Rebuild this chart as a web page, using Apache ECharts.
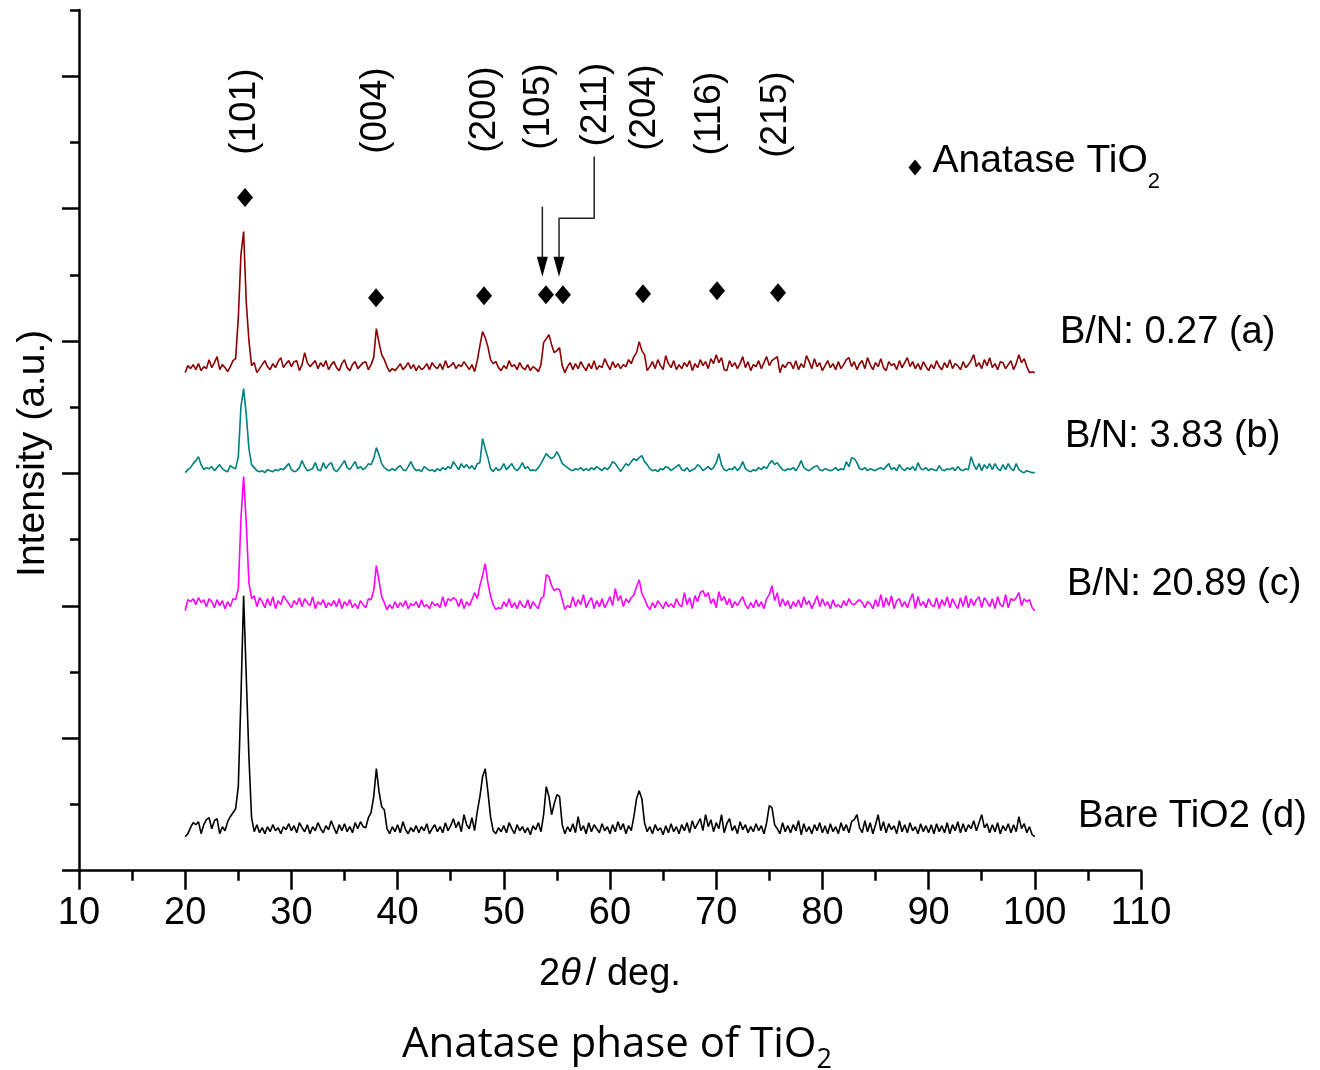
<!DOCTYPE html>
<html>
<head>
<meta charset="utf-8">
<script src="https://cdn.jsdelivr.net/npm/echarts@6/dist/echarts.min.js"></script>
<style>html,body{margin:0;padding:0;background:#fff}#chart{width:1320px;height:1070px}</style>
</head>
<body>
<div id="chart"></div>
<script>
// ---- data ----
const twoThetaStart = 20, twoThetaStep = 0.25;   // scan grid (deg)
const xTicks = [10, 20, 30, 40, 50, 60, 70, 80, 90, 100, 110];
const sampleNames = ['B/N: 0.27 (a)', 'B/N: 3.83 (b)', 'B/N: 20.89 (c)', 'Bare TiO2 (d)'];
const sampleColors = ['#8b0000', '#008080', '#ff00ff', '#000000'];
const stackOffsets = [498, 398, 260, 34];        // vertical offset of each pattern (a.u.)
const sampleLabelPos = [[102.37, 538], [102.84, 434], [103.03, 286], [104.07, 54]];

const intensityA = [
0,7,4,8, 3,9,2,6, 4,13,5,10, 16,3,8,5, 1,6,12,14,
55,118,141,70, 32,7,10,0, 4,8,12,6, 3,9,5,11, 15,5,9,12,
6,11,12,2, 8,20,10,6, 9,12,4,10, 6,12,3,8, 11,5,2,9,
13,5,2,8, 11,4,7,10, 11,3,8,15, 44,30,18,13, 6,1,4,2,
5,9,3,6, 10,4,8,2, 7,3,5,9, 3,10,6,4, 9,3,12,5,
7,10,4,8, 6,11,7,3, 8,1,12,27, 41,35,26,13, 9,11,5,2,
7,4,12,6, 8,3,10,5, 3,8,2,6, 4,1,8,30, 34,38,28,20,
22,25,7,0, 6,10,3,9, 4,11,6,2, 9,4,12,3, 7,5,14,8,
3,11,5,9, 4,8,6,13, 9,16,20,31, 22,18,2,6, 11,4,13,7,
3,17,9,5, 12,3,8,4, 10,6,12,2, 9,5,13,7, 11,4,14,9,
18,10,15,3, 2,12,6,10, 4,9,16,5, 11,2,8,6, 12,4,10,16,
7,12,14,16, 0,8,5,10, 10,4,12,3, 9,5,17,11, 4,14,6,10,
2,7,12,5, 9,3,11,4, 8,13,15,6, 11,3,9,12, 4,15,8,3,
10,6,14,5, 2,11,7,9, 3,12,5,10, 15,6,11,4, 9,3,11,6,
2,8,4,12, 6,3,10,5, 13,4,9,7, 3,11,5,8, 12,18,6,10,
4,13,7,15, 5,9,3,11, 10,4,8,12, 3,9,18,10, 14,6,0,1,
0];

const intensityB = [
0,3,5,9, 12,16,8,3, 5,4,6,2, 5,8,4,2, 1,7,5,4,
16,66,84,58, 24,8,5,2, 1,2,0,3, 2,1,3,2, 4,3,6,9,
3,1,2,5, 12,6,2,3, 4,10,3,2, 10,4,8,10, 3,1,4,8,
12,5,3,7, 11,4,6,3, 5,9,8,14, 25,18,9,5, 3,2,4,2,
5,7,3,2, 6,11,5,2, 3,1,6,4, 2,3,1,4, 2,5,3,6,
4,11,7,3, 9,5,8,4, 7,3,9,10, 34,24,15,4, 1,5,2,4,
9,3,6,9, 4,2,5,10, 4,6,2,3, 2,5,9,14, 19,16,14,16,
21,16,9,7, 5,3,2,4, 3,5,2,4, 2,5,3,6, 4,2,5,3,
6,11,9,5, 1,5,9,7, 11,14,12,15, 17,11,8,4, 2,3,1,4,
3,6,5,2, 4,6,8,3, 2,5,1,3, 4,8,6,2, 4,6,3,5,
10,19,8,3, 2,4,3,6, 2,5,11,4, 2,1,3,2, 5,3,6,4,
9,12,8,10, 6,3,2,4, 3,5,2,6, 12,5,3,2, 4,6,7,3,
2,4,3,2, 3,5,2,4, 3,11,6,15, 14,10,4,3, 5,2,4,3,
2,4,5,3, 6,9,3,5, 2,8,4,2, 5,3,6,2, 10,4,3,5,
2,4,3,2, 7,3,2,4, 3,5,2,6, 3,2,4,3, 16,8,3,9,
2,8,4,9, 3,9,4,2, 8,3,9,4, 2,9,3,1, 0,2,1,0,
0];

const intensityC = [
0,11,9,12, 6,13,8,11, 4,12,9,3, 11,5,10,2, 9,4,12,11,
22,92,134,88, 28,12,15,4, 13,9,3,12, 5,14,2,10, 6,15,11,7,
3,10,6,13, 4,12,8,5, 14,2,9,6, 11,3,8,5, 10,4,12,2,
9,5,11,3, 7,2,10,6, 3,12,11,20, 45,30,14,8, 1,6,2,9,
3,8,4,10, 2,7,5,9, 3,11,4,6, 2,9,5,7, 3,14,4,12,
10,13,11,4, 12,2,9,5, 11,18,12,25, 35,47,28,15, 6,1,3,2,
9,4,12,3, 8,2,10,5, 3,11,2,9, 5,2,12,14, 36,34,25,20,
22,21,11,1, 5,3,14,4, 11,6,16,3, 9,13,2,10, 4,12,3,8,
14,5,22,10, 15,4,12,8, 13,16,24,31, 17,12,5,1, 8,3,10,6,
2,9,4,7, 3,12,6,4, 18,6,13,2, 15,9,18,20, 14,18,7,12,
3,19,10,14, 6,12,3,9, 5,10,14,6, 2,8,3,11, 4,9,2,12,
16,25,10,18, 4,12,5,10, 2,9,4,11, 3,14,6,10, 2,8,15,4,
12,5,9,2, 11,4,6,3, 10,5,12,7, 6,9,11,8, 3,9,7,2,
11,4,16,3, 13,5,15,2, 10,12,4,9, 3,11,17,2, 14,5,9,3,
12,6,4,13, 2,11,5,14, 3,12,6,2, 13,4,15,3, 12,5,11,14,
3,13,9,4, 12,2,14,6, 4,16,3,12, 10,13,18,5, 12,9,11,3,
0];

const intensityD = [
0,3,9,14, 12,15,3,12, 17,19,8,16, 18,3,10,6, 15,20,24,28,
50,140,241,160, 80,19,5,12, 4,9,3,10, 5,12,6,9, 3,10,7,13,
6,11,4,14, 9,5,12,3, 10,6,14,8, 4,11,7,16, 9,3,12,6,
13,5,10,4, 14,8,15,10, 9,19,24,40, 68,45,30,27, 8,3,10,5,
12,4,15,7, 3,9,5,11, 4,10,6,13, 3,8,12,5, 10,4,14,6,
11,18,9,15, 5,22,12,8, 19,6,25,40, 60,68,45,20, 6,3,9,5,
11,4,14,8, 3,12,6,10, 4,9,2,11, 7,14,5,22, 50,40,22,33,
42,40,12,3, 10,5,13,4, 20,6,11,3, 14,5,12,8, 4,13,6,10,
3,12,5,15, 7,13,3,11, 6,20,38,46, 38,14,5,10, 3,12,6,9,
2,11,4,13, 5,10,3,12, 6,14,4,16, 8,13,18,6, 22,10,17,5,
14,8,22,4, 13,18,6,11, 3,15,7,12, 4,10,5,13, 6,11,3,14,
31,29,12,8, 3,14,5,11, 4,12,6,16, 2,13,5,10, 3,12,6,14,
4,11,3,13, 5,10,3,14, 6,12,4,15, 17,22,9,4, 16,5,14,3,
12,22,6,15, 4,13,7,11, 3,16,5,12, 4,14,6,10, 3,13,5,11,
4,12,3,13, 5,11,4,14, 3,12,6,15, 4,13,5,12, 8,16,6,14,
22,9,13,4, 12,5,14,3, 11,6,13,4, 12,5,20,8, 13,4,10,2,
0];

const peakLabels = ['(101)', '(004)', '(200)', '(105)', '(211)', '(204)', '(116)', '(215)'];
const peakLabelPos = [[25.63, 759], [37.97, 760], [48.23, 761], [53.31, 764], [58.68, 766], [63.3, 763], [69.42, 757], [75.63, 756]];
const peakMarkers = [[25.63, 673], [37.97, 573], [48.14, 575], [53.97, 576], [55.57, 576], [63.11, 577], [70.08, 580], [75.82, 578]];
const arrowShaft1 = [[53.63, 664], [53.63, 612]];
const arrowShaft2 = [[58.51, 714], [58.51, 652.4], [55.2, 652.4], [55.2, 612]];
const arrowHeads = [[53.63, 604], [55.2, 604]];
const legendMarker = [88.72, 703];

// ---- build ----
const SANS = '"Liberation Sans", Arial, Helvetica, sans-serif';
const patterns = [intensityA, intensityB, intensityC, intensityD];
const lineSeries = patterns.map((arr, k) => ({
  type: 'line', name: sampleNames[k], symbol: 'none', showSymbol: false,
  animation: false, silent: true, clip: false,
  lineStyle: { color: sampleColors[k], width: 1.6 },
  data: arr.map((v, i) => [twoThetaStart + i * twoThetaStep, stackOffsets[k] + v])
}));

const yMax = 860.6, yMinorStep = 66.2;
const majorYTicks = [0, 2, 4, 6, 8, 10, 12].map(i => +(i * yMinorStep).toFixed(1));
const blackItem = { color: '#000', opacity: 1 };

const option = {
  animation: false,
  backgroundColor: '#fff',
  title: {
    text: '{m|Anatase phase of TiO}{s|2}',
    left: 397, top: 1019,
    textStyle: {
      fontWeight: 'normal',
      rich: {
        m: { fontFamily: '"Open Sans", sans-serif', fontWeight: 'normal', fontSize: 42, color: '#000', verticalAlign: 'bottom', padding: [0, 0, 8, 0] },
        s: { fontFamily: '"Open Sans", sans-serif', fontWeight: 'normal', fontSize: 27, color: '#000', verticalAlign: 'bottom' }
      }
    }
  },
  grid: { left: 79, right: 179, top: 10, bottom: 199.3, containLabel: false, outerBoundsMode: 'none' },
  xAxis: {
    type: 'value', min: 10, max: 110, interval: 10, position: 'bottom',
    axisLine: { show: true, onZero: false, lineStyle: { color: '#000', width: 2.5 } },
    axisTick: { show: true, inside: false, length: 19, lineStyle: { color: '#000', width: 2.5 } },
    minorTick: { show: true, splitNumber: 2, length: 10, lineStyle: { color: '#000', width: 2.5 } },
    splitLine: { show: false }, minorSplitLine: { show: false },
    axisLabel: { show: true, showMinLabel: true, showMaxLabel: true, hideOverlap: false, fontSize: 38, fontFamily: SANS, color: '#000', margin: 24,
      customValues: xTicks },
    name: '{n|2}{i|θ}{n|/ deg.}', nameLocation: 'middle', nameGap: 85,
    nameTextStyle: {
      rich: {
        n: { fontFamily: SANS, fontSize: 38, color: '#000' },
        i: { fontFamily: SANS, fontSize: 38, fontStyle: 'italic', color: '#000', padding: [0, 5, 0, 0] }
      }
    }
  },
  yAxis: [{
    type: 'value', min: 0, max: yMax, interval: yMinorStep, position: 'left', offset: 0,
    axisLine: { show: true, onZero: false, lineStyle: { color: '#000', width: 2.5 } },
    axisTick: { show: true, inside: false, length: 9, lineStyle: { color: '#000', width: 2.5 } },
    axisLabel: { show: false }, splitLine: { show: false },
    name: 'Intensity (a.u.)', nameLocation: 'middle', nameGap: 26, nameRotate: 90,
    nameTextStyle: { fontFamily: SANS, fontSize: 39, color: '#000', padding: [0, 26, 0, 0] }
  }, {
    type: 'value', min: 0, max: yMax, position: 'left', offset: 0,
    axisLine: { show: false },
    axisTick: { show: true, inside: false, length: 17, customValues: majorYTicks, lineStyle: { color: '#000', width: 2.5 } },
    axisLabel: { show: false }, splitLine: { show: false }
  }],
  series: [
    ...lineSeries,
    {
      type: 'scatter', silent: true, clip: false, symbol: 'diamond', symbolSize: [16, 19],
      itemStyle: blackItem, data: peakMarkers
    },
    {
      type: 'line', silent: true, clip: false, symbol: 'none', lineStyle: { color: '#222', width: 1.5 }, data: arrowShaft1
    },
    {
      type: 'line', silent: true, clip: false, symbol: 'none', lineStyle: { color: '#222', width: 1.5 }, data: arrowShaft2
    },
    {
      type: 'scatter', silent: true, clip: false, symbol: 'triangle', symbolRotate: 180, symbolSize: [11, 20],
      itemStyle: blackItem, data: arrowHeads
    },
    {
      type: 'scatter', silent: true, clip: false, symbolSize: 0, itemStyle: { color: 'transparent', opacity: 1 },
      data: peakLabels.map((t, i) => ({ name: t, value: peakLabelPos[i] })),
      label: { show: true, position: 'inside', rotate: 90, align: 'center', verticalAlign: 'middle', opacity: 1,
        formatter: '{b}', fontFamily: SANS, fontSize: 37, color: '#000' }
    },
    {
      type: 'scatter', silent: true, clip: false, symbolSize: 0, itemStyle: { color: 'transparent', opacity: 1 },
      data: sampleNames.map((t, i) => ({ name: t, value: sampleLabelPos[i] })),
      label: { show: true, position: 'right', distance: 0, opacity: 1, formatter: '{b}', fontFamily: SANS, fontSize: 38, color: '#000' }
    },
    {
      type: 'scatter', silent: true, clip: false, symbol: 'diamond', symbolSize: [13, 16],
      itemStyle: blackItem, data: [legendMarker],
      label: { show: true, position: 'right', distance: 11, opacity: 1,
        formatter: '{m|Anatase TiO}{s|2}',
        rich: {
          m: { fontFamily: SANS, fontSize: 39, color: '#000', verticalAlign: 'bottom', padding: [0, 0, 12, 0] },
          s: { fontFamily: SANS, fontSize: 22, color: '#000', verticalAlign: 'bottom' }
        }
      }
    }
  ]
};

const chart = echarts.init(document.getElementById('chart'), null, { renderer: 'canvas' });
chart.setOption(option);
</script>
</body>
</html>
